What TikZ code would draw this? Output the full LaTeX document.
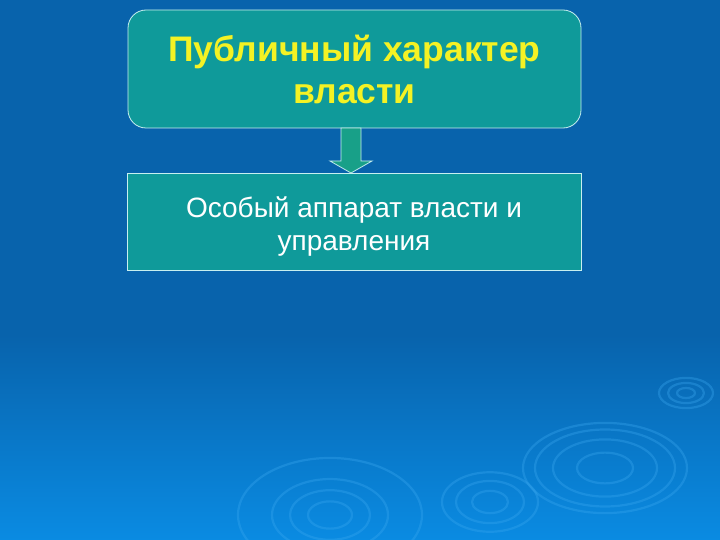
\documentclass[tikz,border=0pt]{standalone}
\usepackage{fontspec}
\setmainfont{Liberation Sans}
\usetikzlibrary{shapes.arrows}
\definecolor{bgtop}{HTML}{0863AC}
\definecolor{bgbot}{HTML}{0A8BE2}
\definecolor{teal}{HTML}{0F9A9A}
\definecolor{edge}{HTML}{C8F0F0}
\definecolor{ylw}{HTML}{F4F224}
\definecolor{arrowfill}{HTML}{18A088}
\definecolor{ripple}{HTML}{3AA8F0}
\tikzset{
  box/.style={fill=teal, draw=edge, line width=0.8pt, align=center, inner sep=0pt},
  ring/.style={draw=ripple, line width=2.2pt, opacity=0.35},
}
\begin{document}
\begin{tikzpicture}[x=1pt,y=-1pt]
\useasboundingbox (0,0) rectangle (720,540);
\fill[bgtop] (0,0) rectangle (720,335);
\shade[top color=bgtop, bottom color=bgbot] (0,334.5) rectangle (720,540);
% ripples
\begin{scope}
\clip (0,0) rectangle (720,540);
\foreach \r in {12,24,36} \draw[ring] (686,393) ellipse ({\r*0.75} and {\r*0.42});
\foreach \r in {28,52,70,82} \draw[ring] (605,468) ellipse ({\r} and {\r*0.55});
\foreach \r in {18,34,48} \draw[ring] (490,502) ellipse ({\r} and {\r*0.62});
\foreach \r in {22,40,58,92} \draw[ring] (330,515) ellipse ({\r} and {\r*0.62});
\end{scope}
% boxes
\node[box, rounded corners=18pt, minimum width=453pt, minimum height=118pt,
      text=ylw, font=\bfseries\fontsize{35.5}{42}\selectfont] (top) at (354.5,69)
  {Публичный характер\\власти};
\node[box, minimum width=454pt, minimum height=97pt] (bot) at (354,221.5) {};
\node[align=center, inner sep=0pt, text=white, font=\fontsize{28}{33}\selectfont]
  (botlabel) at ([yshift=-5pt]bot.center) {Особый аппарат власти и\\управления};
% block arrow
\draw[fill=arrowfill, draw=edge, line width=0.8pt]
  (341,128) -- (361,128) -- (361,161) -- (372,161) -- (351,173) -- (330,161) -- (341,161) -- cycle;
\end{tikzpicture}
\end{document}
